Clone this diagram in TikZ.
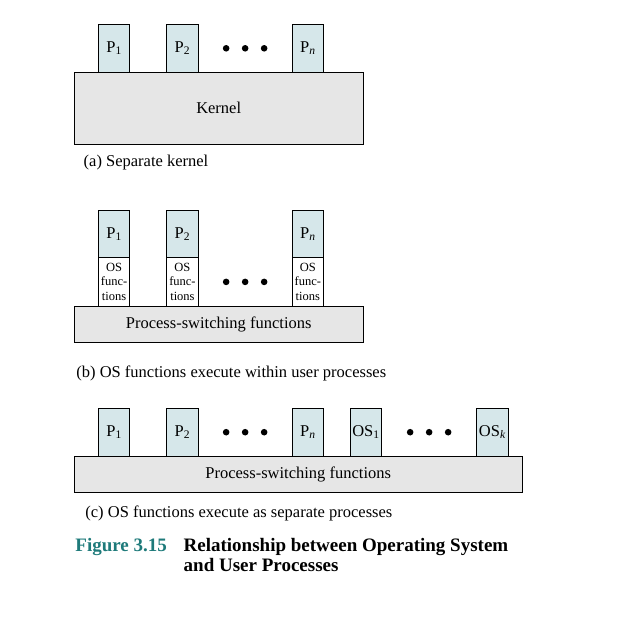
\documentclass[tikz,border=0pt]{standalone}
\usepackage{fontspec}
\setmainfont{Liberation Serif}
\usetikzlibrary{positioning,calc}

\definecolor{procblue}{RGB}{214,231,234}
\definecolor{kerngray}{RGB}{230,230,230}
\definecolor{figteal}{RGB}{30,122,122}

\tikzset{
  procbox/.style={draw, fill=procblue, minimum width=31.4pt, minimum height=48pt,
    inner sep=0pt, outer sep=0pt, font=\fontsize{16.5}{19}\selectfont},
  osbox/.style={draw, fill=white, minimum width=31.4pt, minimum height=48.3pt,
    inner sep=0pt, outer sep=0pt, align=center, font=\fontsize{12.5}{14.7}\selectfont},
  basebox/.style={draw, fill=kerngray, minimum width=289.3pt, inner sep=0pt,
    outer sep=0pt, font=\fontsize{16.5}{19}\selectfont},
  caption/.style={anchor=base west, inner sep=0pt, font=\fontsize{16.5}{19}\selectfont},
  figlabel/.style={anchor=base west, inner sep=0pt, font=\fontsize{19}{21}\selectfont\bfseries},
}

\begin{document}
\begin{tikzpicture}[x=1pt, y=1pt, line width=0.8pt]
  \useasboundingbox (0,0) rectangle (617,-624);

  % (a) separate kernel
  \node[basebox, minimum height=72pt] (Ka) at (218.7,-108.3) {Kernel};
  \node[procbox, above right=0pt and 24.3pt of Ka.north west] (Pa1) {P\textsubscript{1}};
  \node[procbox, right=37pt of Pa1] (Pa2) {P\textsubscript{2}};
  \node[procbox, right=94pt of Pa2] (Pan) {P\textsubscript{\itshape n}};
  \coordinate (da) at ($(Pa2.east)!0.5!(Pan.west)$);
  \fill ([xshift=-19pt]da) circle (3.3pt) (da) circle (3.3pt) ([xshift=19pt]da) circle (3.3pt);
  \node[caption] (capa) at (83.3,-166.5) {(a) Separate kernel};

  % (b) OS functions inside user processes
  \node[basebox, minimum height=36.3pt] (Sb) at (218.7,-324.2) {Process-switching functions};
  \node[osbox, above right=0pt and 24.3pt of Sb.north west] (Ob1) {OS\\func-\\tions};
  \node[procbox, minimum height=47.7pt, above=0pt of Ob1] (Pb1) {P\textsubscript{1}};
  \node[osbox, right=37pt of Ob1] (Ob2) {OS\\func-\\tions};
  \node[procbox, minimum height=47.7pt, above=0pt of Ob2] (Pb2) {P\textsubscript{2}};
  \node[osbox, right=94pt of Ob2] (Obn) {OS\\func-\\tions};
  \node[procbox, minimum height=47.7pt, above=0pt of Obn] (Pbn) {P\textsubscript{\itshape n}};
  \coordinate (db) at ($(Ob2.east)!0.5!(Obn.west)$);
  \fill ([xshift=-19pt]db) circle (3.3pt) (db) circle (3.3pt) ([xshift=19pt]db) circle (3.3pt);
  \node[caption] (capb) at (76,-377) {(b) OS functions execute within user processes};

  % (c) OS functions as separate processes
  \node[basebox, minimum width=448.3pt, minimum height=36.3pt] (Sc) at (298.2,-474.2) {Process-switching functions};
  \node[procbox, minimum height=47.7pt, above right=0pt and 24.3pt of Sc.north west] (Pc1) {P\textsubscript{1}};
  \node[procbox, minimum height=47.7pt, right=37pt of Pc1] (Pc2) {P\textsubscript{2}};
  \node[procbox, minimum height=47.7pt, right=94pt of Pc2] (Pcn) {P\textsubscript{\itshape n}};
  \node[procbox, minimum height=47.7pt, right=26.7pt of Pcn] (Oc1) {OS\textsubscript{1}};
  \node[procbox, minimum height=47.7pt, right=95pt of Oc1] (Ock) {OS\textsubscript{\itshape k}};
  \coordinate (dc) at ($(Pc2.east)!0.5!(Pcn.west)$);
  \coordinate (dd) at ($(Oc1.east)!0.5!(Ock.west)$);
  \fill ([xshift=-19pt]dc) circle (3.3pt) (dc) circle (3.3pt) ([xshift=19pt]dc) circle (3.3pt);
  \fill ([xshift=-19pt]dd) circle (3.3pt) (dd) circle (3.3pt) ([xshift=19pt]dd) circle (3.3pt);
  \node[caption] (capc) at (85,-517) {(c) OS functions execute as separate processes};

  % figure caption
  \node[figlabel, text=figteal] (fignum) at (75,-551) {Figure 3.15};
  \node[figlabel] (figtxt1) at (183.3,-551) {Relationship between Operating System};
  \node[figlabel] (figtxt2) at (183.3,-571.7) {and User Processes};
\end{tikzpicture}
\end{document}
